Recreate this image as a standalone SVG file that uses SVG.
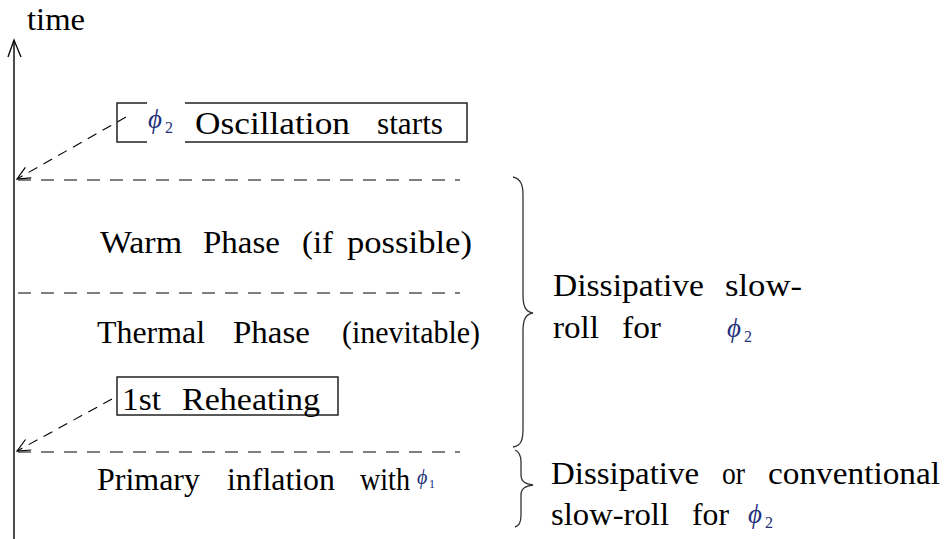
<svg xmlns="http://www.w3.org/2000/svg" width="946" height="539" viewBox="0 0 946 539">
<style>
  text { font-family: "Liberation Serif", "Times New Roman", "DejaVu Serif", serif; fill: #000; }
  .t { font-size: 32px; }
  .phi { font-size: 27px; font-style: italic; fill: #22307a; }
  .sub { font-size: 16px; fill: #22307a; }
  .dash { stroke: #000; stroke-width: 1.2; stroke-dasharray: 13 10; fill: none; }
  .darr { stroke: #000; stroke-width: 1.1; stroke-dasharray: 10 7; fill: none; }
  .box { stroke: #222; stroke-width: 1.5; fill: none; }
  .brace { stroke: #333; stroke-width: 1.3; fill: none; }
</style>
<defs>
  <marker id="open" markerUnits="userSpaceOnUse" markerWidth="16" markerHeight="14" refX="13" refY="6" orient="auto" overflow="visible">
    <path d="M0,0 L13,6 L0,12" fill="none" stroke="#000" stroke-width="1.2"/>
  </marker>
</defs>
<rect width="946" height="539" fill="#fff"/>

<g id="axis">
  <line x1="14" y1="539" x2="14" y2="41" stroke="#000" stroke-width="1.4"/>
  <path d="M8,57 L14,40 L21,57" fill="none" stroke="#000" stroke-width="1.3"/>
  <text class="t" x="27" y="30" textLength="58" lengthAdjust="spacingAndGlyphs">time</text>
</g>

<g id="connectors">
  <line class="dash" x1="18" y1="180" x2="460" y2="180"/>
  <line class="dash" x1="18" y1="293" x2="460" y2="293"/>
  <line class="dash" x1="18" y1="452" x2="460" y2="452"/>
  <line class="darr" x1="126" y1="117" x2="17" y2="179" marker-end="url(#open)"/>
  <line class="darr" x1="112" y1="399" x2="17" y2="451" marker-end="url(#open)"/>
</g>

<g id="oscillation">
  <rect class="box" x="117" y="103" width="350" height="39"/>
  <rect x="147" y="100" width="38" height="45" fill="#fff"/>
  <text class="phi" x="148" y="128">ϕ</text>
  <text class="sub" x="165" y="133">2</text>
  <text class="t" x="195" y="134" textLength="155" lengthAdjust="spacingAndGlyphs">Oscillation</text>
  <text class="t" x="377" y="134" textLength="66" lengthAdjust="spacingAndGlyphs">starts</text>
</g>

<g id="warm">
  <text class="t" x="100" y="253" textLength="82" lengthAdjust="spacingAndGlyphs">Warm</text>
  <text class="t" x="203" y="253" textLength="77" lengthAdjust="spacingAndGlyphs">Phase</text>
  <text class="t" x="302" y="253" textLength="31" lengthAdjust="spacingAndGlyphs">(if</text>
  <text class="t" x="347" y="253" textLength="125" lengthAdjust="spacingAndGlyphs">possible)</text>
</g>

<g id="thermal">
  <text class="t" x="97" y="343" textLength="108" lengthAdjust="spacingAndGlyphs">Thermal</text>
  <text class="t" x="233" y="343" textLength="77" lengthAdjust="spacingAndGlyphs">Phase</text>
  <text class="t" x="342" y="343" textLength="138" lengthAdjust="spacingAndGlyphs">(inevitable)</text>
</g>

<g id="reheating">
  <rect class="box" x="117" y="377" width="221" height="38"/>
  <text class="t" x="122" y="410" textLength="39" lengthAdjust="spacingAndGlyphs">1st</text>
  <text class="t" x="182" y="410" textLength="138" lengthAdjust="spacingAndGlyphs">Reheating</text>
</g>

<g id="primary">
  <text class="t" x="97" y="490" textLength="103" lengthAdjust="spacingAndGlyphs">Primary</text>
  <text class="t" x="227" y="490" textLength="108" lengthAdjust="spacingAndGlyphs">inflation</text>
  <text class="t" x="360" y="490" textLength="50" lengthAdjust="spacingAndGlyphs">with</text>
  <text class="phi" x="417" y="484" style="font-size:20px">ϕ</text>
  <text class="sub" x="429" y="488" style="font-size:12px">1</text>
</g>

<g id="brace1">
  <path class="brace" d="M513,177 C521,179 523,185 523,195 L523,295 C523,307 526,312 533,313 C526,314 523,319 523,331 L523,429 C523,440 521,446 513,447"/>
  <text class="t" x="553" y="296" textLength="151" lengthAdjust="spacingAndGlyphs">Dissipative</text>
  <text class="t" x="725" y="296" textLength="77" lengthAdjust="spacingAndGlyphs">slow-</text>
  <text class="t" x="553" y="338" textLength="46" lengthAdjust="spacingAndGlyphs">roll</text>
  <text class="t" x="622" y="338" textLength="39" lengthAdjust="spacingAndGlyphs">for</text>
  <text class="phi" x="727" y="337">ϕ</text>
  <text class="sub" x="744" y="342">2</text>
</g>

<g id="brace2">
  <path class="brace" d="M515,450 C520,452 521,456 521,462 L521,475 C521,482 526,484 533,485 C526,486 521,488 521,495 L521,515 C521,521 520,526 515,527"/>
  <text class="t" x="551" y="484" textLength="148" lengthAdjust="spacingAndGlyphs">Dissipative</text>
  <text class="t" x="722" y="484" textLength="23" lengthAdjust="spacingAndGlyphs">or</text>
  <text class="t" x="768" y="484" textLength="172" lengthAdjust="spacingAndGlyphs">conventional</text>
  <text class="t" x="551" y="525" textLength="118" lengthAdjust="spacingAndGlyphs">slow-roll</text>
  <text class="t" x="692" y="525" textLength="37" lengthAdjust="spacingAndGlyphs">for</text>
  <text class="phi" x="748" y="523">ϕ</text>
  <text class="sub" x="765" y="528">2</text>
</g>
</svg>
